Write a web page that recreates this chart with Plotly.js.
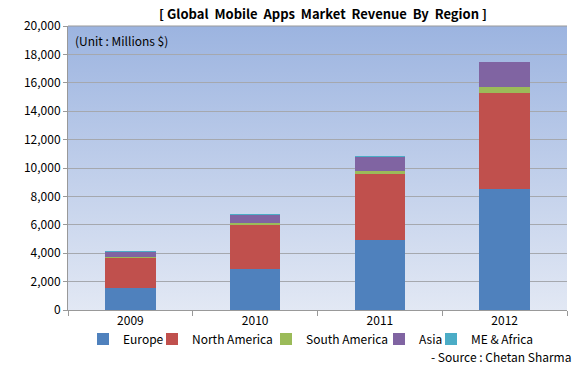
<!DOCTYPE html>
<html>
<head>
<meta charset="utf-8">
<script src="https://cdn.plot.ly/plotly-3.0.1.min.js"></script>
<style>html,body{margin:0;padding:0;background:#fff}#chart{width:582px;height:370px}</style>
</head>
<body>
<div id="chart"></div>
<script>
const years = ["2009", "2010", "2011", "2012"];
const europe = [1550, 2880, 4950, 8500];
const northAmerica = [2110, 3100, 4650, 6770];
const southAmerica = [60, 140, 190, 420];
const asia = [380, 560, 985, 1760];
const meAfrica = [50, 70, 90, 50];
const seriesNames = ["Europe", "North America", "South America", "Asia", "ME & Africa"];
const seriesColors = ["#4f81bd", "#c0504d", "#9bbb59", "#8064a2", "#4bacc6"];
const seriesValues = [europe, northAmerica, southAmerica, asia, meAfrica];
const legendIds = ["legend", "legend2", "legend3", "legend4", "legend5"];
// left position (px) of each legend entry in the container
const legendLeft = [83, 152, 266, 379, 431];

const traces = seriesValues.map((vals, i) => ({
  type: "bar",
  x: years,
  y: vals,
  name: seriesNames[i],
  legend: legendIds[i],
  marker: {color: seriesColors[i], line: {width: 0}},
  hoverinfo: "x+y+name"
}));

const grad = 'data:image/svg+xml;utf8,' + encodeURIComponent(
  '<svg xmlns="http://www.w3.org/2000/svg" width="100" height="100" preserveAspectRatio="none">' +
  '<defs><linearGradient id="g" x1="0" y1="0" x2="0" y2="1">' +
  '<stop offset="0" stop-color="#9cb4e0"/><stop offset="1" stop-color="#e2e8f4"/>' +
  '</linearGradient></defs><rect width="100" height="100" fill="url(#g)"/></svg>');

const W = 582, H = 370;
const layout = {
  width: W, height: H,
  margin: {l: 68, r: 15, t: 26, b: 60},
  paper_bgcolor: "#ffffff",
  plot_bgcolor: "rgba(0,0,0,0)",
  font: {family: "Noto Sans CJK KR, DejaVu Sans, sans-serif", size: 12, color: "#000"},
  title: {
    text: "<b>[ Global  Mobile  Apps  Market  Revenue  By  Region ]</b>",
    font: {size: 13, color: "#000"},
    x: 0.555, xanchor: "center", y: 0.96, yanchor: "middle"
  },
  barmode: "stack",
  bargap: 0.594,
  showlegend: true,
  xaxis: {
    type: "category",
    tickson: "boundaries",
    ticks: "outside", ticklen: 5, tickcolor: "#999",
    showline: true, linecolor: "#999", linewidth: 1,
    showgrid: false,
    tickfont: {size: 12, color: "#000"}
  },
  yaxis: {
    range: [0, 20000],
    dtick: 2000,
    tickformat: ",d",
    ticks: "outside", ticklen: 4, tickcolor: "#999",
    showline: true, linecolor: "#999", linewidth: 1,
    showgrid: true, gridcolor: "#a5a8ae", gridwidth: 1,
    zeroline: false,
    tickfont: {size: 12, color: "#000"}
  },
  images: [{
    source: grad, xref: "paper", yref: "paper", x: 0, y: 1,
    sizex: 1, sizey: 1, xanchor: "left", yanchor: "top",
    sizing: "stretch", layer: "below"
  }],
  shapes: [{
    type: "line", xref: "paper", yref: "paper", x0: 0, x1: 1, y0: 1, y1: 1,
    line: {color: "#999", width: 1}
  }],
  annotations: [
    {text: "(Unit : Millions $)", xref: "paper", yref: "paper", x: 0.01, y: 0.985,
     xanchor: "left", yanchor: "top", showarrow: false, font: {size: 12, color: "#000"}},
    {text: "- Source : Chetan Sharma", xref: "paper", yref: "paper", x: 1.012, y: -0.165,
     xanchor: "right", yanchor: "middle", showarrow: false, font: {size: 12, color: "#000"}}
  ]
};

legendIds.forEach((id, i) => {
  layout[id] = {
    orientation: "h",
    xref: "container", yref: "container",
    x: legendLeft[i] / W, xanchor: "left",
    y: 1 - 339 / H, yanchor: "middle",
    bgcolor: "rgba(0,0,0,0)",
    font: {size: 12, color: "#000"},
    itemwidth: 30
  };
});

Plotly.newPlot("chart", traces, layout, {displayModeBar: false, staticPlot: true});
</script>
</body>
</html>
